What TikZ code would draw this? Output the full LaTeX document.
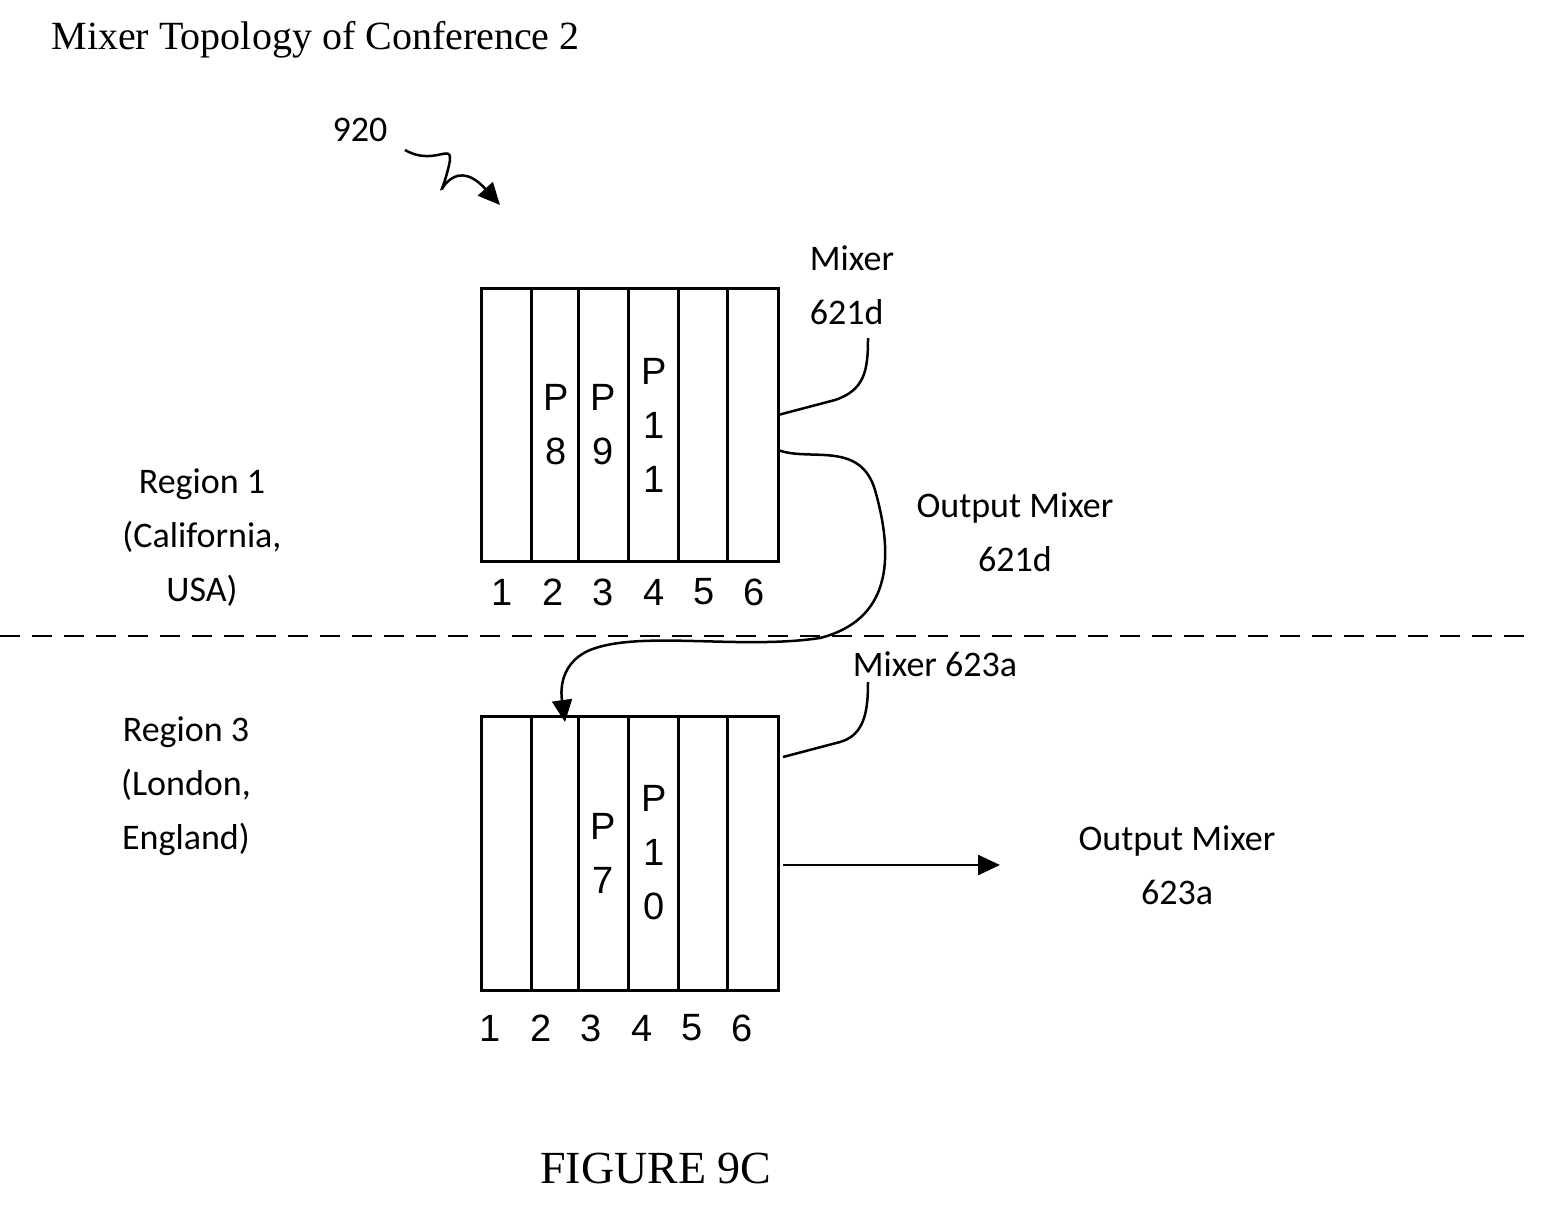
\documentclass[tikz,border=0pt]{standalone}
\usepackage{fontspec}
\setmainfont{Carlito}
\newfontfamily\arialf{Liberation Sans}
\newfontfamily\serf{Liberation Serif}
\usetikzlibrary{arrows.meta}
\begin{document}
\begin{tikzpicture}[x=1pt,y=-1pt,
  lab/.style={font=\fontsize{36}{54}\selectfont,align=center},
  cel/.style={font=\arialf\fontsize{38}{54}\selectfont,align=center},
  box/.style={line width=3pt},
  wire/.style={line width=2.5pt},
  arr/.style={wire,-{Triangle[length=22pt,width=20pt]}}]
\useasboundingbox (0,0) rectangle (1553,1215);
\node[font=\serf\fontsize{40}{48}\selectfont,anchor=west] (title) at (48,40) {Mixer Topology of Conference 2};
\node[lab] (n920) at (360,130) {920};
\coordinate (s0) at (405,150);
\coordinate (s1) at (500,205);
\draw[arr] (s0) .. controls (440,170) and (460,130) .. (445,180) .. controls (435,210) and (450,150) .. (s1);
% top box
\draw[box] (481,288) rectangle (778,561);
\foreach \x in {531,578,628,678,727} \draw[box] (\x,288) -- (\x,561);
\foreach \x/\n in {502/1,553/2,603/3,654/4,704/5,754/6} \node[cel] at (\x,592) {\n};
\node[cel] (p8) at (556,425) {P\\8};
\node[cel] (p9) at (603,425) {P\\9};
\node[cel] (p11) at (654,425) {P\\1\\1};
% bottom box
\draw[box] (481,716) rectangle (778,990);
\foreach \x in {531,578,628,678,727} \draw[box] (\x,716) -- (\x,990);
\foreach \x/\n in {490/1,541/2,591/3,642/4,692/5,742/6} \node[cel] at (\x,1028) {\n};
\node[cel] (p7) at (603,853) {P\\7};
\node[cel] (p10) at (654,853) {P\\1\\0};
% labels
\node[lab] (r1) at (202,538) {Region 1\\(California,\\USA)};
\node[lab] (r3) at (186,786) {Region 3\\(London,\\England)};
\node[lab,align=left] (m621) at (852,285) {Mixer\\621d};
\node[lab] (o621) at (1015,532) {Output Mixer\\621d};
\node[lab] (m623) at (935,664) {Mixer 623a};
\node[lab] (o623) at (1177,865) {Output Mixer\\623a};
\node[font=\serf\fontsize{46}{54}\selectfont] (fig) at (656,1168) {FIGURE 9C};
% dashed line
\draw[line width=2.5pt,dash pattern=on 20pt off 12pt] (0,636) -- (1533,636);
% leaders
\draw[wire] (778,415) -- (835,400) .. controls (865,390) and (868,370) .. (868,338);
\draw[wire] (783,757) -- (840,742) .. controls (865,735) and (868,710) .. (868,682);
\coordinate (a0) at (778,450);
\coordinate (a1) at (565,722);
\draw[arr] (a0) .. controls (810,462) and (860,440) .. (875,490) .. controls (895,560) and (890,620) .. (820,638) .. controls (740,650) and (640,630) .. (590,650) .. controls (555,665) and (562,700) .. (a1);
\draw[arr] (783,865) -- (1000,865);
\end{tikzpicture}
\end{document}
